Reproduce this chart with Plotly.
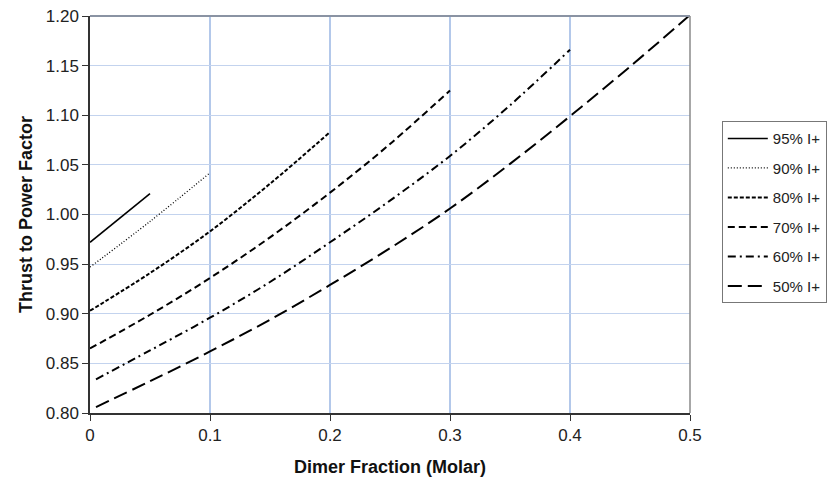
import plotly.graph_objects as go

names = ["95% I+", "90% I+", "80% I+", "70% I+", "60% I+", "50% I+"]
x95 = [0.0, 0.05]
y95 = [0.972, 1.021]
x90 = [0.0, 0.05, 0.1]
y90 = [0.947, 0.993, 1.042]
x80 = [0.0, 0.05, 0.1, 0.15, 0.2]
y80 = [0.903, 0.941, 0.983, 1.031, 1.083]
x70 = [0.0, 0.05, 0.1, 0.15, 0.2, 0.25, 0.3]
y70 = [0.865, 0.899, 0.936, 0.977, 1.022, 1.071, 1.125]
x60 = [0.005, 0.05, 0.1, 0.15, 0.2, 0.25, 0.3, 0.35, 0.4]
y60 = [0.834, 0.863, 0.896, 0.932, 0.972, 1.014, 1.059, 1.110, 1.166]
x50 = [0.005, 0.05, 0.1, 0.15, 0.2, 0.25, 0.3, 0.35, 0.4, 0.45, 0.5]
y50 = [0.806, 0.832, 0.862, 0.894, 0.929, 0.966, 1.006, 1.051, 1.099, 1.149, 1.201]

xs = [x95, x90, x80, x70, x60, x50]
ys = [y95, y90, y80, y70, y60, y50]
dashes = ["solid", "1px,2px", "4px,2px", "7px,4px", "8px,4px,2px,4px", "14px,6px"]
widths = [1.6, 1.3, 2.0, 2.0, 2.0, 2.0]

fig = go.Figure()
for i in range(len(names)):
    fig.add_trace(go.Scatter(
        x=xs[i], y=ys[i], mode="lines", name=names[i],
        line=dict(color="black", width=widths[i], dash=dashes[i], shape="spline"),
        legendgroup=names[i],
    ))

fnt = "Liberation Sans, Arial, sans-serif"
fig.update_layout(
    width=837, height=482,
    margin=dict(l=90, r=147, t=16, b=69, autoexpand=False),
    plot_bgcolor="white", paper_bgcolor="white",
    font=dict(family=fnt, size=17, color="#222"),
    showlegend=True,
    legend=dict(
        x=1.053, y=0.735, xanchor="left", yanchor="top",
        bordercolor="#777", borderwidth=1, bgcolor="white",
        font=dict(family=fnt, size=15, color="#222"),
        tracegroupgap=7, itemwidth=40,
    ),
    xaxis=dict(
        range=[0, 0.5], tickvals=[0, 0.1, 0.2, 0.3, 0.4, 0.5],
        ticktext=["0", "0.1", "0.2", "0.3", "0.4", "0.5"],
        showgrid=True, gridcolor="#b3c8ea", gridwidth=2,
        showline=True, linecolor="#333", linewidth=1.5,
        ticks="outside", ticklen=6, tickcolor="#333",
        zeroline=False,
        title=dict(text="<b>Dimer Fraction (Molar)</b>", standoff=16,
                   font=dict(family=fnt, size=18, color="#111")),
    ),
    yaxis=dict(
        range=[0.8, 1.2], dtick=0.05, tickformat=".2f",
        showgrid=True, gridcolor="#c3d3ee", gridwidth=1,
        showline=True, linecolor="#333", linewidth=1.5,
        ticks="outside", ticklen=6, tickcolor="#333",
        zeroline=False,
        title=dict(text="<b>Thrust to Power Factor</b>", standoff=8,
                   font=dict(family=fnt, size=18, color="#111")),
    ),
    shapes=[
        dict(type="line", xref="paper", yref="paper", x0=0, x1=1, y0=1, y1=1,
             line=dict(color="#8a93a3", width=2)),
        dict(type="line", xref="paper", yref="paper", x0=1, x1=1, y0=0, y1=1,
             line=dict(color="#8a8a8a", width=1.5)),
    ],
)

fig.write_html("out.html")
